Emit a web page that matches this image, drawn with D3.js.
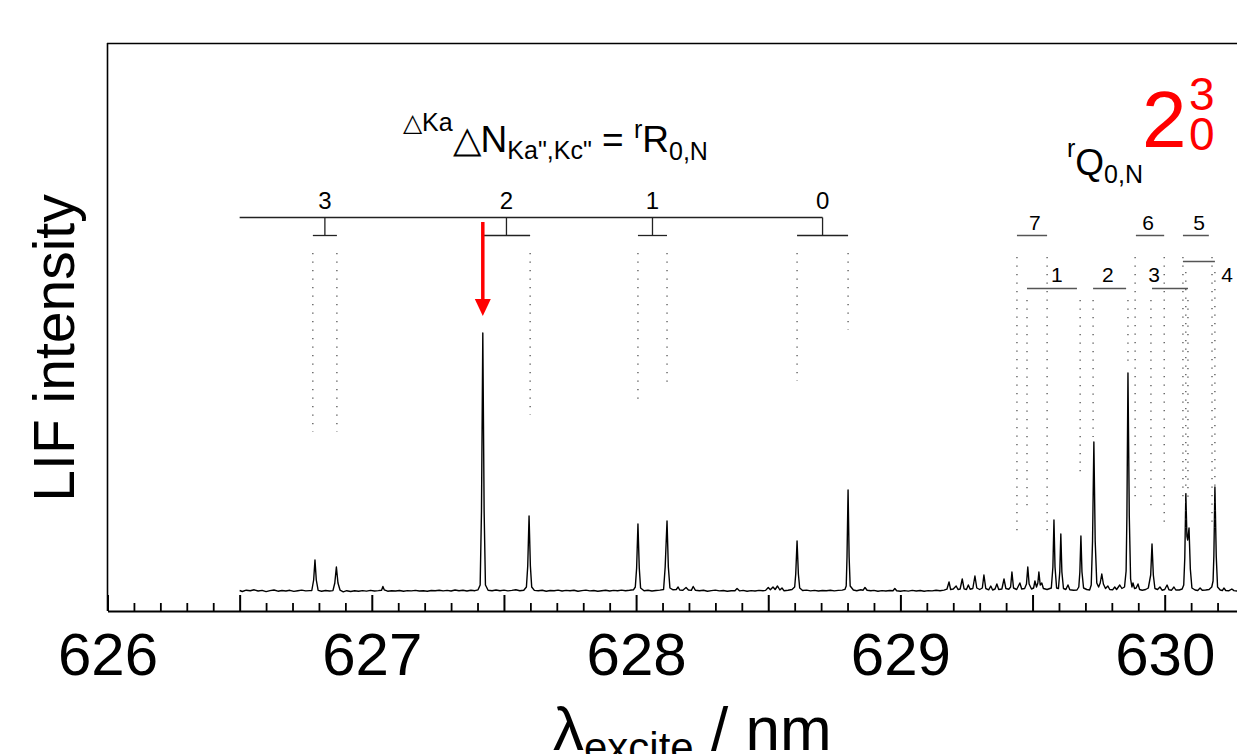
<!DOCTYPE html>
<html><head><meta charset="utf-8">
<script src="https://cdn.jsdelivr.net/npm/d3@7"></script>
<style>
body{margin:0;background:#fff}
svg{display:block}
text{font-family:"Liberation Sans", Arial, Helvetica, sans-serif}
</style>
</head><body>
<svg id="c" width="1237" height="754"></svg>
<script>
// ---------------- data ----------------
const xTickLabels = [626, 627, 628, 629, 630];
const xDomain = [626, 630.5];
// LIF spectrum: [wavelength nm, intensity (arb.)]
const spectrum = [
[626.500,0.5],[626.510,-0.5],[626.525,0.8],[626.540,0.2],[626.555,1.2],[626.570,0.0],[626.585,0.6],[626.600,-0.6],
[626.615,0.4],[626.630,1.0],[626.645,-0.2],[626.660,0.5],[626.675,0.0],[626.690,0.7],[626.705,-0.4],[626.720,0.3],
[626.735,0.9],[626.750,0.1],[626.765,0.4],[626.773,0.5],[626.780,11],[626.785,31],[626.790,11],[626.797,0.6],
[626.810,-0.2],[626.825,0.5],[626.840,0.0],[626.853,0.4],[626.860,8],[626.866,24],[626.872,8],[626.880,0.8],
[626.892,-0.8],[626.905,0.3],[626.920,-0.5],[626.935,0.2],[626.950,-0.3],[626.965,0.4],[626.980,-0.1],[626.995,0.6],
[627.010,0.0],[627.025,0.4],[627.037,0.8],[627.042,4.5],[627.047,1.2],[627.060,-0.2],[627.075,0.3],[627.090,0.0],
[627.105,0.5],[627.120,-0.3],[627.135,0.4],[627.150,0.1],[627.165,0.6],[627.180,0.0],[627.195,0.3],[627.210,-0.2],
[627.225,0.5],[627.240,0.2],[627.255,0.8],[627.270,0.1],[627.285,0.6],[627.300,0.0],[627.315,1.0],[627.330,0.2],
[627.345,0.7],[627.360,0.0],[627.375,0.8],[627.390,0.3],[627.402,1.2],[627.410,6],[627.415,80],[627.420,258],
[627.425,80],[627.430,6],[627.440,0.8],[627.455,0.2],[627.470,1.0],[627.485,0.3],[627.500,0.9],[627.515,0.1],
[627.530,0.6],[627.545,1.2],[627.560,0.3],[627.575,0.8],[627.585,4],[627.590,25],[627.595,75],[627.600,25],
[627.605,4],[627.615,0.6],[627.630,0.2],[627.645,0.8],[627.660,-0.2],[627.675,0.5],[627.690,0.2],[627.705,0.9],
[627.720,0.0],[627.735,0.6],[627.750,0.3],[627.765,0.7],[627.780,-0.3],[627.795,0.4],[627.810,0.9],[627.825,0.1],
[627.840,0.5],[627.855,-0.2],[627.870,0.3],[627.885,0.8],[627.900,0.0],[627.915,0.6],[627.930,0.2],[627.945,0.9],
[627.960,0.3],[627.975,0.7],[627.990,1.2],[627.997,4],[628.002,23],[628.007,67],[628.012,23],[628.017,3],
[628.030,0.3],[628.045,0.8],[628.060,0.0],[628.075,0.5],[628.090,0.9],[628.104,1.5],[628.110,24],[628.117,70],
[628.122,24],[628.128,3],[628.140,1.2],[628.152,1.5],[628.159,4],[628.165,1.0],[628.177,0.8],[628.189,3.5],
[628.198,1.0],[628.209,0.6],[628.216,4.5],[628.224,0.8],[628.240,0.2],[628.255,0.7],[628.270,-0.2],[628.285,0.4],
[628.300,0.9],[628.315,0.1],[628.330,0.5],[628.345,-0.3],[628.360,0.3],[628.374,0.2],[628.382,2.5],[628.392,0.1],
[628.405,0.6],[628.420,-0.2],[628.435,0.4],[628.450,0.0],[628.465,0.6],[628.480,0.3],[628.490,0.6],[628.500,3.5],
[628.508,1.2],[628.518,4.0],[628.526,1.5],[628.535,5.0],[628.544,1.0],[628.552,3.0],[628.560,0.2],[628.575,0.8],
[628.590,1.5],[628.600,4],[628.604,17],[628.609,50],[628.614,17],[628.619,3],[628.630,0.5],[628.645,0.9],
[628.660,0.1],[628.675,0.6],[628.690,0.0],[628.705,0.5],[628.720,0.2],[628.735,0.8],[628.750,0.1],[628.765,0.6],
[628.780,0.9],[628.790,1.6],[628.795,5],[628.798,34],[628.802,101],[628.806,34],[628.810,5],[628.822,1.0],
[628.835,0.3],[628.850,1.2],[628.859,0.8],[628.866,3.5],[628.874,0.8],[628.888,0.2],[628.900,0.6],[628.915,-0.3],
[628.930,0.4],[628.945,0.0],[628.960,0.5],[628.972,0.2],[628.979,2.5],[628.986,0.3],[629.000,-0.3],[629.015,0.4],
[629.030,-0.1],[629.045,0.6],[629.060,0.0],[629.075,0.5],[629.090,-0.2],[629.105,0.4],[629.120,0.1],[629.135,0.7],
[629.150,0.3],[629.165,0.9],[629.176,1.8],[629.184,9],[629.190,1.5],[629.200,2.0],[629.211,5],[629.218,1.5],
[629.226,2.0],[629.234,12],[629.241,2.2],[629.250,1.5],[629.257,6],[629.264,1.8],[629.274,2.5],[629.282,15],
[629.289,3.0],[629.300,1.5],[629.310,3.0],[629.316,16],[629.323,2.5],[629.334,1.2],[629.342,5],[629.349,1.0],
[629.358,2.0],[629.365,7],[629.372,1.5],[629.384,2.0],[629.392,12],[629.399,2.5],[629.410,1.8],[629.417,4],
[629.422,19],[629.428,3],[629.440,1.5],[629.452,8],[629.459,2.0],[629.470,2.5],[629.477,7],[629.482,24],
[629.487,7],[629.496,2.0],[629.504,3.0],[629.509,10],[629.515,4],[629.520,8],[629.524,19],[629.529,6],
[629.535,8],[629.541,2.5],[629.555,1.5],[629.571,3],[629.577,24],[629.581,71],[629.585,24],[629.591,3],
[629.598,2.5],[629.603,19],[629.607,57],[629.611,19],[629.617,2.5],[629.626,1.5],[629.634,6],[629.641,1.2],
[629.655,0.8],[629.668,1.0],[629.675,4],[629.679,19],[629.683,55],[629.687,19],[629.693,3],[629.705,1.5],
[629.716,1.0],[629.722,6],[629.727,50],[629.732,149],[629.737,50],[629.743,8],[629.750,4],[629.756,8],
[629.762,17],[629.768,7],[629.776,2.5],[629.785,5],[629.792,1.5],[629.803,1.2],[629.811,4],[629.818,1.5],
[629.830,6],[629.838,2.5],[629.848,4],[629.854,20],[629.857,75],[629.861,218],[629.866,75],[629.871,12],
[629.876,4],[629.880,8],[629.886,2.5],[629.892,3],[629.899,7],[629.905,1.5],[629.915,0.8],[629.928,1.5],
[629.938,3],[629.947,16],[629.952,47],[629.957,16],[629.963,2.5],[629.973,1.5],[629.982,4],[629.990,0.8],
[630.000,1.5],[630.009,6],[630.016,1.2],[630.026,0.8],[630.035,4],[630.042,1.0],[630.055,1.0],[630.066,2.0],
[630.072,6],[630.076,33],[630.080,97],[630.084,55],[630.087,51],[630.092,63],[630.097,22],[630.103,3],
[630.115,1.0],[630.125,0.5],[630.134,3],[630.142,0.8],[630.155,1.0],[630.168,1.5],[630.178,4],[630.183,10],
[630.186,35],[630.190,104],[630.195,35],[630.200,4],[630.210,1.0],[630.218,0.5],[630.224,3],[630.231,0.5],
[630.242,0.2],[630.254,2],[630.262,0.4],[630.275,0.0]
];

// rR(0,N) branch comb
const rLabels = ["3", "2", "1", "0"];
const rPairs = [[626.777, 626.868], [627.420, 627.599], [628.007, 628.117], [628.609, 628.802]];
const rDotEnds = [[159, 159], [null, 176], [185, 202], [210, 261]];
const rCombStart = 626.5;

// rQ(0,N) branch assignments
const qLabels = ["7", "1", "2", "6", "3", "5", "4"];
const qPairs = [[629.441, 629.555], [629.479, 629.668], [629.729, 629.854], [629.891, 629.998],
                [629.952, 630.088], [630.069, 630.167], [630.069, 630.190]];
const qDots = [[629.441, 629.555], [629.479, 629.680], [629.729, 629.861], [629.888, 629.998],
               [629.948, 630.088], [630.069, 630.179], [630.080, 630.190]];
const qDotEnds = [[54, 54], [81, 119], [154, 224], [94, 67], [85, 91], [91, 63], [48, 63]];
const qLabelAt = [629.509, 629.592, 629.785, 629.937, 629.960, 630.130, 630.236];
const qTier = [0, 2, 2, 0, 2, 0, 1];

const arrowAt = 627.420;

// ---------------- drawing ----------------
const svg = d3.select("#c");
svg.append("rect").attr("width", 1237).attr("height", 754).attr("fill", "#fff");

const x = d3.scaleLinear().domain(xDomain).range([107.5, 107.5 + 4.5 * 264.3]);
const y = d3.scaleLinear().domain([0, 258]).range([591, 333]);

// frame
svg.append("line").attr("x1", 107.5).attr("x2", 107.5).attr("y1", 43).attr("y2", 611)
  .attr("stroke", "#000").attr("stroke-width", 1.6);
svg.append("line").attr("x1", 107).attr("x2", x(xDomain[1])).attr("y1", 43.5).attr("y2", 43.5)
  .attr("stroke", "#000").attr("stroke-width", 1.6);

// axes
const majors = d3.range(0, 10).map(i => 626 + i * 0.5);
const minors = d3.range(0, 46).map(i => 626 + i / 10).filter(v => Math.abs(v * 2 - Math.round(v * 2)) > 1e-6);

const gMinor = svg.append("g").attr("transform", "translate(0,611)")
  .call(d3.axisBottom(x).tickValues(minors).tickSize(-8).tickSizeOuter(0).tickFormat(""));
gMinor.select(".domain").remove();
gMinor.selectAll(".tick line").attr("stroke", "#000").attr("stroke-width", 1.8);

const gMajor = svg.append("g").attr("transform", "translate(0,611)")
  .call(d3.axisBottom(x).tickValues(majors).tickSize(-16).tickSizeOuter(0).tickPadding(21)
    .tickFormat(d => xTickLabels.includes(d) ? String(d) : ""));
gMajor.select(".domain").attr("stroke", "#000").attr("stroke-width", 2.2);
gMajor.selectAll(".tick line").attr("stroke", "#000").attr("stroke-width", 2);
gMajor.selectAll(".tick text").attr("font-size", 60).attr("fill", "#000")
  .attr("font-family", "'Liberation Sans', Arial, sans-serif");

// axis titles
svg.append("text").attr("transform", "translate(74,348) rotate(-90)")
  .attr("text-anchor", "middle").attr("font-size", 57).text("LIF intensity");

const xt = svg.append("text").attr("x", 553).attr("y", 750).attr("font-size", 62);
xt.append("tspan").text("λ");
xt.append("tspan").attr("font-size", 42).attr("dy", 12).text("excite");
xt.append("tspan").attr("dy", -12).text(" / nm");

// spectrum
svg.append("path").datum(spectrum)
  .attr("d", d3.line().x(d => x(d[0])).y(d => y(d[1])))
  .attr("fill", "none").attr("stroke", "#000").attr("stroke-width", 1.4).attr("stroke-linejoin", "round");

// dotted guide helper
function dotted(wl, yTop, endI) {
  svg.append("line").attr("x1", x(wl)).attr("x2", x(wl)).attr("y1", yTop).attr("y2", y(endI))
    .attr("stroke", "#333").attr("stroke-width", 1.1).attr("stroke-dasharray", "1.2,7.3");
}

// R comb
const combY = 217.5, footY = 235.5;
const mids = rPairs.map(p => (p[0] + p[1]) / 2);
svg.append("line").attr("x1", x(rCombStart)).attr("x2", x(mids[mids.length - 1]))
  .attr("y1", combY).attr("y2", combY).attr("stroke", "#222").attr("stroke-width", 1.3);
rPairs.forEach((p, i) => {
  const m = x(mids[i]);
  svg.append("line").attr("x1", m).attr("x2", m).attr("y1", combY).attr("y2", footY)
    .attr("stroke", "#222").attr("stroke-width", 1.3);
  svg.append("line").attr("x1", x(p[0])).attr("x2", x(p[1])).attr("y1", footY).attr("y2", footY)
    .attr("stroke", "#222").attr("stroke-width", 1.3);
  svg.append("text").attr("x", m).attr("y", 209).attr("text-anchor", "middle")
    .attr("font-size", 24).text(rLabels[i]);
  p.forEach((wl, j) => { if (rDotEnds[i][j] != null) dotted(wl, 253, rDotEnds[i][j]); });
});

// Q assignments
const tierY = [235.5, 261.5, 288.5];
const tierLabelY = [230, 282, 282];
const tierDotTop = [257, 272, 300];
qPairs.forEach((p, i) => {
  const t = qTier[i];
  svg.append("line").attr("x1", x(p[0])).attr("x2", x(p[1])).attr("y1", tierY[t]).attr("y2", tierY[t])
    .attr("stroke", "#555").attr("stroke-width", 1.5);
  svg.append("text").attr("x", x(qLabelAt[i])).attr("y", tierLabelY[t]).attr("text-anchor", "middle")
    .attr("font-size", 21).text(qLabels[i]);
  qDots[i].forEach((wl, j) => dotted(wl, tierDotTop[t], qDotEnds[i][j]));
});

// red arrow
const ax = x(arrowAt);
svg.append("line").attr("x1", ax).attr("x2", ax).attr("y1", 222).attr("y2", 302)
  .attr("stroke", "#ff0000").attr("stroke-width", 3.5);
svg.append("path").attr("d", `M${ax - 8},299 L${ax + 8},299 L${ax},316 Z`).attr("fill", "#ff0000");

// branch titles
const t1 = svg.append("text").attr("x", 403).attr("y", 131).attr("font-size", 25);
t1.append("tspan").text("△Ka");
t1.append("tspan").attr("font-size", 37).attr("dy", 21).text("△N");
t1.append("tspan").attr("font-size", 25).attr("dy", 7).text("Ka\",Kc\"");
t1.append("tspan").attr("font-size", 37).attr("dy", -7).text(" = ");
t1.append("tspan").attr("font-size", 25).attr("dy", -14).text("r");
t1.append("tspan").attr("font-size", 37).attr("dy", 14).text("R");
t1.append("tspan").attr("font-size", 25).attr("dy", 8).text("0,N");

const t2 = svg.append("text").attr("x", 1067).attr("y", 157).attr("font-size", 25);
t2.append("tspan").text("r");
t2.append("tspan").attr("font-size", 37).attr("dy", 18).text("Q");
t2.append("tspan").attr("font-size", 25).attr("dy", 8).text("0,N");

// vibronic band label
svg.append("text").attr("x", 1142).attr("y", 147).attr("font-size", 80).attr("fill", "#ff0000").text("2");
svg.append("text").attr("x", 1189).attr("y", 110).attr("font-size", 46).attr("fill", "#ff0000").text("3");
svg.append("text").attr("x", 1189).attr("y", 150).attr("font-size", 46).attr("fill", "#ff0000").text("0");
</script>
</body></html>
